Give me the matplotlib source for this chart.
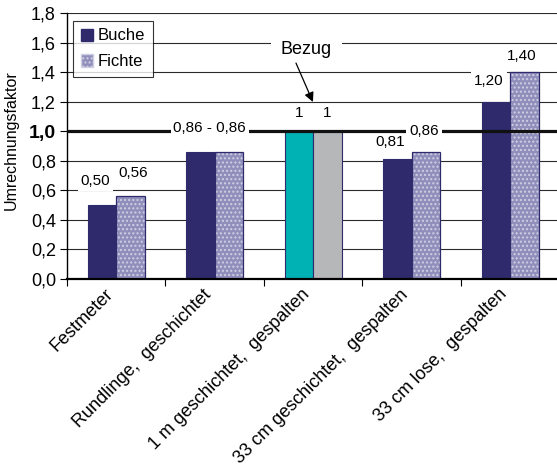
import matplotlib.pyplot as plt
import matplotlib.transforms as mtransforms
import numpy as np

plt.rcParams['font.family'] = ['Liberation Sans', 'DejaVu Sans']
plt.rcParams['hatch.linewidth'] = 1.0

categories = ['Festmeter', 'Rundlinge,  geschichtet', '1 m geschichtet,  gespalten',
              '33 cm geschichtet,  gespalten', '33 cm lose,  gespalten']
buche = [0.50, 0.86, 1.0, 0.81, 1.20]
fichte = [0.56, 0.86, 1.0, 0.86, 1.40]
buche_labels = ['0,50', None, '1', '0,81', '1,20']
fichte_labels = ['0,56', None, '1', '0,86', '1,40']
y_ticks = [0.0, 0.2, 0.4, 0.6, 0.8, 1.0, 1.2, 1.4, 1.6, 1.8]

navy = '#2e2a6b'
lilac = '#908eba'

fig = plt.figure(figsize=(5.57, 4.66), dpi=100)
ax = fig.add_axes([67 / 557, 1 - 279 / 466, 490 / 557, 266 / 466])

x = np.arange(len(categories))
w = 0.29

# horizontal grid and the reference line at 1,0
for v in y_ticks[1:]:
    if v == 1.0:
        continue
    ax.axhline(v, color='#2a2a2a', lw=0.8, zorder=0)
ax.axhline(1.0, color='#111111', lw=2.3, zorder=4)

b_colors = [navy, navy, '#00b2b4', navy, navy]
ax.bar(x - w / 2, buche, w, color=b_colors, edgecolor=navy, lw=0.8, zorder=2)
for i in range(len(x)):
    if i == 2:
        ax.bar(x[i] + w / 2, fichte[i], w, color='#b6b7b9', edgecolor=navy, lw=0.8, zorder=2)
    else:
        # dotted fill first, then the outline on top
        ax.bar(x[i] + w / 2, fichte[i], w, color=lilac, edgecolor='#cfcfe4', lw=0,
               hatch='....', zorder=2)
        ax.bar(x[i] + w / 2, fichte[i], w, fill=False, edgecolor=navy, lw=0.9, zorder=2)
# legend proxies
hb = ax.bar([0], [0], 0, color=navy, edgecolor=navy, label='Buche')
hf = ax.bar([0], [0], 0, color=lilac, edgecolor='#cfcfe4', hatch='....', label='Fichte')

box = dict(facecolor='white', edgecolor='none', pad=2.0)
lab_kw = dict(fontsize=11, ha='center', va='center', zorder=3, bbox=box)
ax.text(x[0] - w / 2 - 0.07, 0.66, buche_labels[0], **lab_kw)
ax.text(x[0] + w / 2 + 0.03, 0.72, fichte_labels[0], **lab_kw)
ax.text(x[2] - w / 2, 1.12, buche_labels[2], **lab_kw)
ax.text(x[2] + w / 2, 1.12, fichte_labels[2], **lab_kw)
ax.text(x[3] - w / 2 - 0.07, 0.93, buche_labels[3], **lab_kw)
ax.text(x[4] - w / 2 - 0.07, 1.34, buche_labels[4], **lab_kw)
ax.text(x[4] + w / 2 - 0.03, 1.51, fichte_labels[4], **lab_kw)
# these two sit on the 1,0 line and cut it
top_kw = dict(lab_kw, zorder=5)
ax.text(x[1] - 0.05, 1.02, '0,86 - 0,86', **top_kw)
ax.text(x[3] + w / 2 - 0.02, 1.0, fichte_labels[3], **top_kw)

ax.text(1.93, 1.55, 'Bezug', fontsize=13, ha='center', va='center', zorder=6,
        bbox=dict(facecolor='white', edgecolor='none', pad=7))
ax.annotate('', xy=(1.997, 1.198), xytext=(1.825, 1.461), zorder=7,
            arrowprops=dict(arrowstyle='-|>', color='black', lw=0.9,
                            mutation_scale=14, shrinkA=0, shrinkB=0))

ax.set_xlim(-0.5, 4.475)
ax.set_ylim(0, 1.8)
ax.set_yticks(y_ticks)
ax.set_yticklabels([('%.1f' % v).replace('.', ',') for v in y_ticks], fontsize=13)
lbl = ax.get_yticklabels()[5]
lbl.set_fontweight('bold')
lbl.set_fontsize(14)
ax.tick_params(axis='y', length=5, width=0.8, direction='out', pad=3)

ax.set_xticks(x)
ax.set_xticklabels(categories, rotation=45, ha='right', va='top',
                   rotation_mode='anchor', fontsize=13)
ax.tick_params(axis='x', length=0, pad=5)
shift = mtransforms.ScaledTranslation(-12 / 100, 0, fig.dpi_scale_trans)
for t in ax.get_xticklabels():
    t.set_transform(t.get_transform() + shift)
ax.set_xticks(np.arange(-0.5, 4.0, 1.0), minor=True)
ax.tick_params(axis='x', which='minor', length=5, width=0.8, direction='out')

for s in ['top', 'right']:
    ax.spines[s].set_visible(False)
ax.spines['left'].set_linewidth(1.0)
ax.spines['bottom'].set_linewidth(1.6)

ax.set_ylabel('Umrechnungsfaktor', fontsize=11.5)
ax.yaxis.set_label_coords(-48 / 490, (279 - 140) / 266)

leg = ax.legend(handles=[hb, hf], loc='upper left', bbox_to_anchor=(6 / 490, 1 - 8 / 266),
                fontsize=12, frameon=True, fancybox=False, edgecolor='black',
                handlelength=0.75, handleheight=0.75, handletextpad=0.3,
                borderpad=0.45, labelspacing=0.65, borderaxespad=0)
leg.get_frame().set_linewidth(0.8)
leg.set_zorder(8)

fig.savefig('out.png', dpi=100, facecolor='white')
